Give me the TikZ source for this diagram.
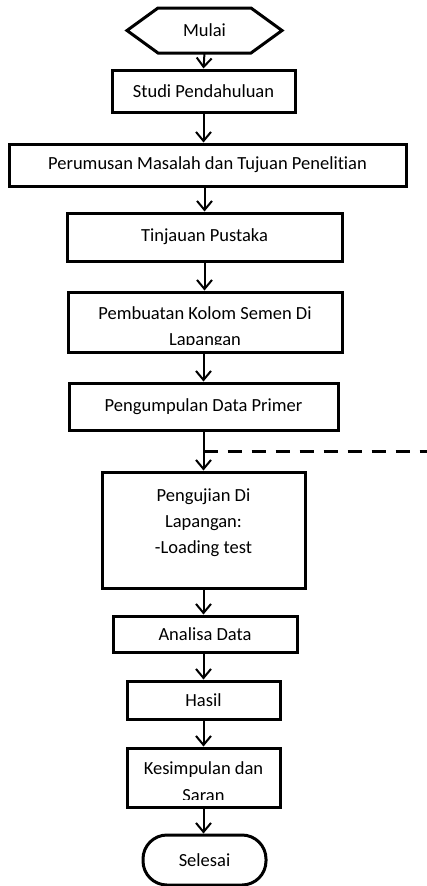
\documentclass[tikz,border=0pt]{standalone}
\usepackage{fontspec}
\setmainfont[Ligatures={NoCommon,NoContextual}]{Carlito}
\usetikzlibrary{arrows.meta}
\begin{document}
\begin{tikzpicture}[x=1pt,y=-1pt,
  every node/.style={font=\fontsize{18.5}{26}\selectfont},
  box/.style={draw, line width=3pt, rectangle, inner sep=0pt, align=center},
  txt/.style={inner sep=0pt, anchor=base},
  flow/.style={line width=2pt, -{Straight Barb[length=9pt,width=15pt]}},
  feedback/.style={line width=3pt, dash pattern=on 14pt off 10pt}
]
\useasboundingbox (0,0) rectangle (426,886);

% start symbol (hexagon)
\node[inner sep=0pt, outer sep=0pt, minimum width=155pt, minimum height=45pt] (mulai) at (204.5,30.5) {Mulai};
\draw[line width=3pt, line join=miter]
  (mulai.west) -- ([xshift=31pt]mulai.north west) -- ([xshift=-31pt]mulai.north east)
  -- (mulai.east) -- ([xshift=-31pt]mulai.south east) -- ([xshift=31pt]mulai.south west) -- cycle;

% process boxes
\node[box, minimum width=183pt, minimum height=42pt] (studi) at (203.5,91) {Studi Pendahuluan};
\node[box, minimum width=397pt, minimum height=42pt] (rumusan) at (207.5,165) {Perumusan Masalah dan Tujuan Penelitian};
\node[box, minimum width=275pt, minimum height=48pt] (tinjauan) at (204.5,237) {Tinjauan Pustaka};
\node[box, minimum width=274pt, minimum height=60pt] (pembuatan) at (205,322) {};
\node[box, minimum width=269pt, minimum height=47pt] (kumpul) at (203.5,406.5) {Pengumpulan Data Primer};
\node[box, minimum width=203pt, minimum height=116pt] (uji) at (203.5,530) {};
\node[box, minimum width=184pt, minimum height=36pt] (analisa) at (205,634) {Analisa Data};
\node[box, minimum width=153pt, minimum height=38pt] (hasil) at (203.5,700) {Hasil};
\node[box, minimum width=153pt, minimum height=59pt] (simpul) at (203.5,777.5) {};
\node[draw, line width=3pt, rounded corners=24pt, inner sep=0pt, minimum width=123pt, minimum height=50pt] (selesai) at (204.5,860) {Selesai};

% multi-line labels (second line cut off by the box frame)
\begin{scope}
  \clip (68,292) rectangle (342,344);
  \node[txt] (pembuatanA) at (205,319) {Pembuatan Kolom Semen Di};
  \node[txt] (pembuatanB) at (205,345) {Lapangan};
\end{scope}
\node[txt] (ujiA) at (203.5,501) {Pengujian Di};
\node[txt] (ujiB) at (203.5,527) {Lapangan:};
\node[txt] (ujiC) at (203.5,553) {-Loading test};
\begin{scope}
  \clip (127,748) rectangle (280,799);
  \node[txt] (simpulA) at (203.5,774) {Kesimpulan dan};
  \node[txt] (simpulB) at (203.5,801) {Saran};
\end{scope}

% connectors
\draw[flow] (mulai.south) -- (studi.north);
\draw[flow] (studi.south) -- (studi.south |- rumusan.north);
\draw[flow] (rumusan.south -| tinjauan.north) -- (tinjauan.north);
\draw[flow] (tinjauan.south) -- (tinjauan.south |- pembuatan.north);
\draw[flow] (pembuatan.south -| kumpul.north) -- (kumpul.north);
\draw[flow] (kumpul.south) -- (uji.north);
\draw[flow] (uji.south) -- (uji.south |- analisa.north);
\draw[flow] (analisa.south -| hasil.north) -- (hasil.north);
\draw[flow] (hasil.south) -- (simpul.north);
\draw[flow] (simpul.south) -- (simpul.south |- selesai.north);

% dashed branch to the right
\coordinate (branch) at (203.5,451);
\coordinate (rightend) at (430,451);
\draw[feedback] (branch) -- (rightend);
\end{tikzpicture}
\end{document}
